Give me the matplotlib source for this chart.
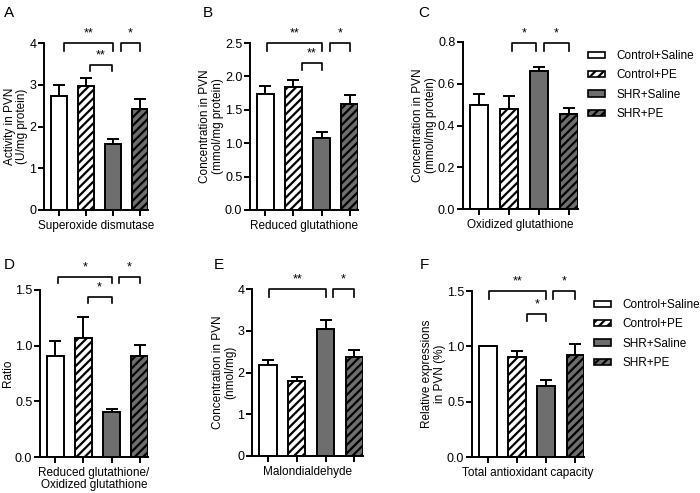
import matplotlib
matplotlib.use("Agg")
import matplotlib.pyplot as plt
from matplotlib.patches import Patch

plt.rcParams['font.family'] = ['Liberation Sans', 'DejaVu Sans']
plt.rcParams['hatch.linewidth'] = 1.6

groups = ["Control+Saline", "Control+PE", "SHR+Saline", "SHR+PE"]
face_colors = ["white", "white", "#6e6e6e", "#6e6e6e"]
hatches = [None, "////", None, "////"]

sod_mean = [2.72, 2.98, 1.57, 2.42]
sod_err = [0.28, 0.17, 0.13, 0.23]
gsh_mean = [1.74, 1.84, 1.08, 1.58]
gsh_err = [0.11, 0.10, 0.09, 0.14]
gssg_mean = [0.50, 0.48, 0.66, 0.455]
gssg_err = [0.05, 0.06, 0.02, 0.03]
ratio_mean = [0.91, 1.07, 0.40, 0.91]
ratio_err = [0.13, 0.19, 0.03, 0.10]
mda_mean = [2.17, 1.80, 3.05, 2.38]
mda_err = [0.13, 0.10, 0.20, 0.17]
tac_mean = [1.00, 0.905, 0.645, 0.925]
tac_err = [0.0, 0.055, 0.05, 0.095]

panels = [
    dict(letter="A", mean=sod_mean, err=sod_err, ylim=4, yticks=[0, 1, 2, 3, 4], fmt="{:.0f}",
         ylabel="Activity in PVN\n(U/mg protein)", xlabel="Superoxide dismutase",
         brackets=[(0.2, 2, 4.0, 3.8, "**"), (1.15, 1.95, 3.48, 3.32, "**"), (2.3, 3, 4.0, 3.8, "*")],
         rect=[44, 43, 148, 210], letter_xy=(4, 6), legend=False),
    dict(letter="B", mean=gsh_mean, err=gsh_err, ylim=2.5, yticks=[0, 0.5, 1.0, 1.5, 2.0, 2.5], fmt="{:.1f}",
         ylabel="Concentration in PVN\n(mmol/mg protein)", xlabel="Reduced glutathione",
         brackets=[(0.05, 2, 2.5, 2.38, "**"), (1.3, 2, 2.2, 2.1, "**"), (2.3, 3, 2.5, 2.38, "*")],
         rect=[250, 43, 358, 210], letter_xy=(203, 6), legend=False),
    dict(letter="C", mean=gssg_mean, err=gssg_err, ylim=0.8, yticks=[0, 0.2, 0.4, 0.6, 0.8], fmt="{:.1f}",
         ylabel="Concentration in PVN\n(mmol/mg protein)", xlabel="Oxidized glutathione",
         brackets=[(1.1, 1.9, 0.795, 0.755, "*"), (2.15, 3, 0.795, 0.755, "*")],
         rect=[463, 42, 578, 209], letter_xy=(418, 6), legend=True),
    dict(letter="D", mean=ratio_mean, err=ratio_err, ylim=1.5, yticks=[0, 0.5, 1.0, 1.5], fmt="{:.1f}",
         ylabel="Ratio", xlabel="Reduced glutathione/\nOxidized glutathione",
         brackets=[(0.1, 2, 1.62, 1.56, "*"), (1.15, 2, 1.44, 1.38, "*"), (2.25, 3, 1.62, 1.56, "*")],
         rect=[40, 290, 148, 457], letter_xy=(4, 258), legend=False),
    dict(letter="E", mean=mda_mean, err=mda_err, ylim=4, yticks=[0, 1, 2, 3, 4], fmt="{:.0f}",
         ylabel="Concentration in PVN\n(nmol/mg)", xlabel="Malondialdehyde",
         brackets=[(0.05, 2, 4.0, 3.82, "**"), (2.25, 3, 4.0, 3.82, "*")],
         rect=[252, 289, 363, 456], letter_xy=(214, 258), legend=False),
    dict(letter="F", mean=tac_mean, err=tac_err, ylim=1.5, yticks=[0, 0.5, 1.0, 1.5], fmt="{:.1f}",
         ylabel="Relative expressions\nin PVN (%)", xlabel="Total antioxidant capacity",
         brackets=[(0.05, 2, 1.5, 1.43, "**"), (1.35, 2, 1.296, 1.23, "*"), (2.25, 3, 1.5, 1.43, "*")],
         rect=[472, 291, 584, 457], letter_xy=(420, 258), legend=True),
]

W, H = 700, 493
fig = plt.figure(figsize=(7.0, 4.93), dpi=100)
lw = 1.4
x = list(range(len(groups)))

for p in panels:
    l, t, r, b = p["rect"]
    ax = fig.add_axes([l / W, 1 - b / H, (r - l) / W, (b - t) / H])
    for i in x:
        ax.bar(i, p["mean"][i], width=0.6, color=face_colors[i], edgecolor="black",
               linewidth=lw, hatch=hatches[i], zorder=2)
        ax.errorbar(i, p["mean"][i], yerr=[[0], [p["err"][i]]], fmt="none", ecolor="black",
                    elinewidth=lw, capsize=4.5, capthick=lw, zorder=1)
    ax.set_xlim(-0.55, 3.3)
    ax.set_ylim(0, p["ylim"])
    ax.set_yticks(p["yticks"])
    ax.set_yticklabels([p["fmt"].format(v) for v in p["yticks"]])
    ax.set_xticks(x)
    ax.set_xticklabels([])
    ax.spines["top"].set_visible(False)
    ax.spines["right"].set_visible(False)
    ax.spines["left"].set_linewidth(lw)
    ax.spines["bottom"].set_linewidth(lw)
    ax.tick_params(axis="both", direction="out", length=4, width=lw, labelsize=9, pad=1.5)
    ax.set_ylabel(p["ylabel"], fontsize=8.5, labelpad=1, linespacing=1.05)
    ax.set_xlabel(p["xlabel"], fontsize=8.5, labelpad=2, linespacing=1.0)
    for (x0, x1, ytop, yleg, s) in p["brackets"]:
        ax.plot([x0, x0, x1, x1], [yleg, ytop, ytop, yleg], color="black", lw=1.2,
                clip_on=False, zorder=3)
        ax.text((x0 + x1) / 2, ytop + p["ylim"] * 0.02, s, ha="center", va="bottom",
                fontsize=9, clip_on=False)
    fig.text(p["letter_xy"][0] / W, 1 - p["letter_xy"][1] / H, p["letter"], fontsize=11,
             ha="left", va="top")
    if p["legend"]:
        handles = [Patch(facecolor=face_colors[i], edgecolor="black", hatch=hatches[i],
                         linewidth=1.2) for i in x]
        fig.legend(handles, groups, loc="upper left",
                   bbox_to_anchor=((r + 10) / W, 1 - (t + 8) / H), frameon=False,
                   fontsize=8.5, handlelength=1.4, handleheight=0.45, handletextpad=1.0,
                   labelspacing=0.62, borderaxespad=0, borderpad=0)

fig.savefig("out.png", dpi=100)
